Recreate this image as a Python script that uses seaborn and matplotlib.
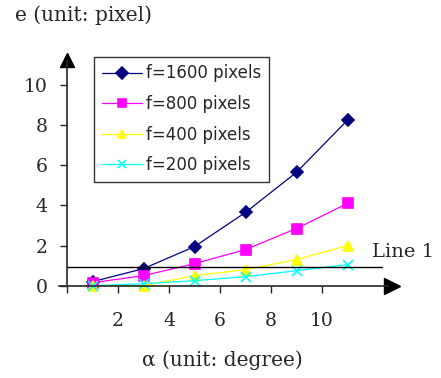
import numpy as np
import pandas as pd
import matplotlib
matplotlib.use('Agg')
import matplotlib.pyplot as plt
import seaborn as sns

# values
alpha = [1, 3, 5, 7, 9, 11]
e_1600 = [0.2, 0.85, 1.95, 3.65, 5.65, 8.25]
e_800 = [0.15, 0.5, 1.1, 1.8, 2.85, 4.1]
e_400 = [0.0, 0.0, 0.5, 0.8, 1.3, 2.0]
e_200 = [0.0, 0.1, 0.25, 0.45, 0.75, 1.05]
line1 = 0.95

series = ['f=1600 pixels', 'f=800 pixels', 'f=400 pixels', 'f=200 pixels']
colors = ['#000080', '#ff00ff', '#ffff00', '#00ffff']
markers = ['D', 's', '^', 'x']
xticks = [0, 2, 4, 6, 8, 10]
yticks = [0, 2, 4, 6, 8, 10]

df = pd.DataFrame({
    'alpha': alpha * 4,
    'e': e_1600 + e_800 + e_400 + e_200,
    'series': sum([[s] * len(alpha) for s in series], []),
})

sns.set_style('white')
plt.rcParams['font.family'] = ['DejaVu Serif']

W, H = 441, 378
fig = plt.figure(figsize=(W / 100, H / 100), dpi=100)
# axes placed in pixels: x=0 at px 67, 25.5 px/unit; y=0 at px 285.7, 20.07 px/unit
x0, xs = 67, 25.5
y0, ys = 285.7, 20.07
xlim = (-0.5, 13.5)
ylim = (-0.5, 11.5)
left = x0 + xlim[0] * xs
bottom = H - (y0 - ylim[0] * ys)
ax = fig.add_axes([left / W, bottom / H, (xlim[1] - xlim[0]) * xs / W,
                   (ylim[1] - ylim[0]) * ys / H])
ax.patch.set_alpha(0)

for s, c, m in zip(series, colors, markers):
    sub = df[df['series'] == s]
    ms = 6 if m == 'D' else 7
    sns.lineplot(data=sub, x='alpha', y='e', color=c, marker=m, linewidth=0.9,
                 markersize=ms, markeredgecolor=c, markeredgewidth=1.2,
                 ax=ax, legend=False)

ax.plot([0, 12.35], [line1, line1], color='black', lw=1)
ax.text(11.95, line1 + 0.3, 'Line 1', fontsize=14, ha='left', va='bottom')

ax.set_xlim(*xlim)
ax.set_ylim(*ylim)
for s in ['top', 'right']:
    ax.spines[s].set_visible(False)
ax.spines['left'].set_position(('data', 0))
ax.spines['bottom'].set_position(('data', 0))
ax.spines['left'].set_bounds(0, 11.2)
ax.spines['bottom'].set_bounds(-0.3, 12.6)
ax.spines['left'].set_linewidth(1.2)
ax.spines['bottom'].set_linewidth(1.2)
ax.plot(12.75, 0, marker='>', color='black', markersize=11, clip_on=False)
ax.plot(0, 11.25, marker='^', color='black', markersize=10, clip_on=False)

ax.set_xticks(xticks)
ax.set_xticklabels([''] + [str(t) for t in xticks[1:]], fontsize=13.5)
ax.set_yticks(yticks)
ax.set_yticklabels([str(t) for t in yticks], fontsize=13.5)
ax.tick_params(axis='x', direction='out', length=5, width=1, pad=14, bottom=True)
ax.tick_params(axis='y', direction='out', length=5, width=1, pad=9, left=True)
ax.set_xlabel('')
ax.set_ylabel('')

fig.text(15 / W, 1 - 15 / H, 'e (unit: pixel)', fontsize=14.5, ha='left', va='center')
fig.text(222 / W, 1 - 360 / H, '\u03b1 (unit: degree)', fontsize=14.5,
         ha='center', va='center')

handles = [plt.Line2D([], [], color=c, marker=m, lw=0.9, markersize=6,
                      markeredgecolor=c, markeredgewidth=1.2)
           for c, m in zip(colors, markers)]
leg = fig.legend(handles, series, loc='upper left',
                 bbox_to_anchor=(94 / W, 1 - 57 / H), frameon=True,
                 prop={'family': 'DejaVu Sans', 'size': 12},
                 handlelength=2.4, labelspacing=0.75, borderpad=0.45,
                 handletextpad=0.3, borderaxespad=0, fancybox=False)
leg.get_frame().set_edgecolor('black')
leg.get_frame().set_linewidth(1)

fig.savefig('out.png', dpi=100)
